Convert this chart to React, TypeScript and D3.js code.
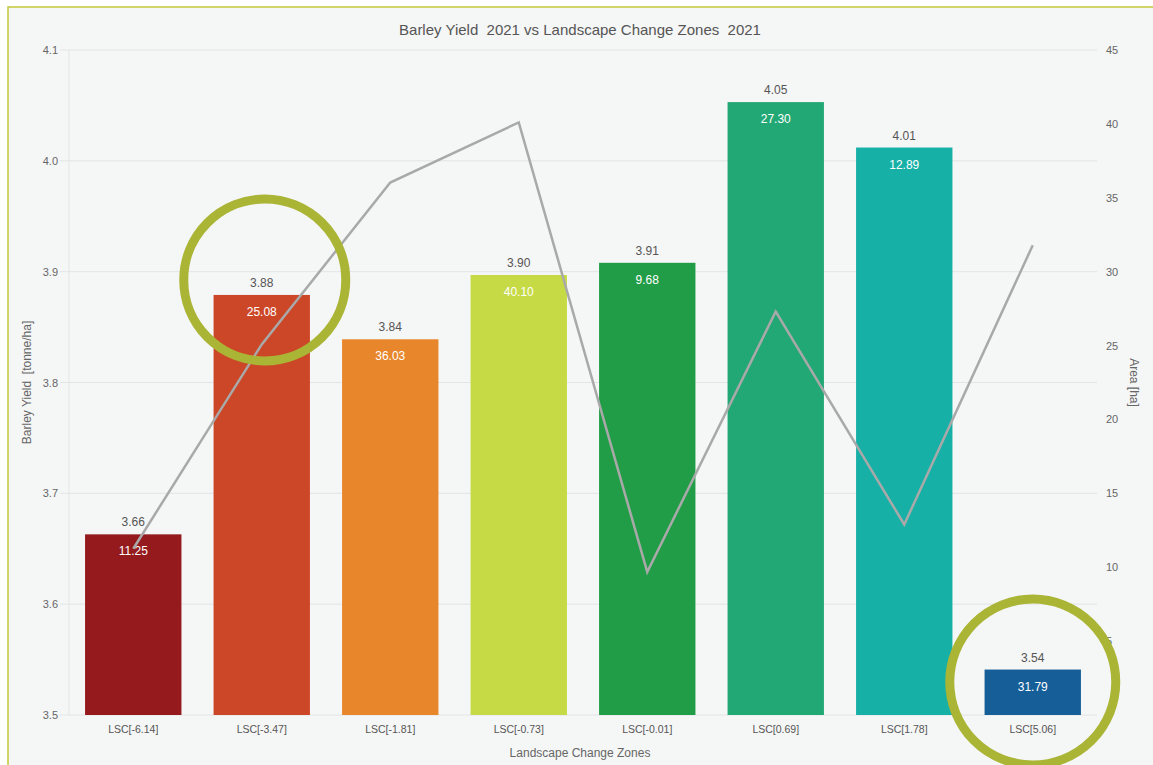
import React from "react";
import * as d3 from "d3";

const categories = ["LSC[-6.14]", "LSC[-3.47]", "LSC[-1.81]", "LSC[-0.73]", "LSC[-0.01]", "LSC[0.69]", "LSC[1.78]", "LSC[5.06]"];
const yieldValues = [3.663, 3.879, 3.839, 3.897, 3.908, 4.053, 4.012, 3.541];
const areaValues = [11.25, 25.08, 36.03, 40.1, 9.68, 27.3, 12.89, 31.79];
const barColors = ["#951a1e", "#cc4727", "#e8862b", "#c6da45", "#229d47", "#22a874", "#17b0a6", "#155e98"];
const leftTicks = [3.5, 3.6, 3.7, 3.8, 3.9, 4.0, 4.1];
const rightTicks = [0, 5, 10, 15, 20, 25, 30, 35, 40, 45];
const highlighted = [1, 7];

const W = 1153;
const H = 765;
const M = { left: 69, right: 1097, top: 50, bottom: 715 };
const FONT = "'Liberation Sans', Arial, sans-serif";

export default function App() {
  const x = d3.scaleBand<string>().domain(categories).range([M.left, M.right]).paddingInner(0.25).paddingOuter(0.125);
  const yL = d3.scaleLinear().domain([3.5, 4.1]).range([M.bottom, M.top]);
  const yR = d3.scaleLinear().domain([0, 45]).range([M.bottom, M.top]);
  const line = d3
    .line<number>()
    .x((_, i) => (x(categories[i]) as number) + x.bandwidth() / 2)
    .y((d) => yR(d));

  return (
    <svg width={W} height={H} style={{ position: "absolute", left: 0, top: 0, fontFamily: FONT }}>
      <rect x={0} y={0} width={W} height={H} fill="#ffffff" />
      <rect x={8} y={7} width={W + 10} height={H + 10} fill="#f5f6f6" stroke="#c3c83a" strokeWidth={1.5} />
      <text x={580} y={35} textAnchor="middle" fontSize={15} fill="#555" style={{ whiteSpace: "pre" }}>
        {"Barley Yield  2021 vs Landscape Change Zones  2021"}
      </text>
      {leftTicks.map((t) => (
        <g key={"l" + t}>
          <line x1={60} x2={M.right} y1={yL(t)} y2={yL(t)} stroke="#e2e4e5" strokeWidth={1} />
          <text x={58} y={yL(t) + 4} textAnchor="end" fontSize={11} fill="#666">
            {d3.format(".1f")(t)}
          </text>
        </g>
      ))}
      <line x1={M.left} x2={M.left} y1={M.top} y2={M.bottom} stroke="#e2e4e5" />
      {rightTicks.map((t) => (
        <text key={"r" + t} x={1106} y={yR(t) + 4} textAnchor="start" fontSize={11} fill="#666">
          {t}
        </text>
      ))}
      <text transform={`translate(31,${(M.top + M.bottom) / 2}) rotate(-90)`} textAnchor="middle" fontSize={12} fill="#666" style={{ whiteSpace: "pre" }}>
        {"Barley Yield  [tonne/ha]"}
      </text>
      <text transform={`translate(1130,${(M.top + M.bottom) / 2}) rotate(90)`} textAnchor="middle" fontSize={12} fill="#666">
        Area [ha]
      </text>
      {categories.map((c, i) => {
        const bx = x(c) as number;
        const top = yL(yieldValues[i]);
        return (
          <g key={c}>
            <rect x={bx} y={top} width={x.bandwidth()} height={M.bottom - top} fill={barColors[i]} />
            <text x={bx + x.bandwidth() / 2} y={top - 8} textAnchor="middle" fontSize={12} fill="#555">
              {d3.format(".2f")(yieldValues[i])}
            </text>
            <text x={bx + x.bandwidth() / 2} y={top + 21} textAnchor="middle" fontSize={12} fill="#ffffff">
              {d3.format(".2f")(areaValues[i])}
            </text>
            <text x={bx + x.bandwidth() / 2} y={733} textAnchor="middle" fontSize={10.5} fill="#555">
              {c}
            </text>
          </g>
        );
      })}
      <path d={line(areaValues) || ""} fill="none" stroke="#a9a9a9" strokeWidth={2.5} />
      <text x={580} y={757} textAnchor="middle" fontSize={12} fill="#666">
        Landscape Change Zones
      </text>
      {highlighted.map((i) => {
        const cx = (x(categories[i]) as number) + x.bandwidth() / 2;
        const cy = i === 1 ? 280 : 682;
        return <circle key={"c" + i} cx={cx + (i === 1 ? 3 : 0)} cy={cy} r={i === 1 ? 81 : 83} fill="none" stroke="#aab435" strokeWidth={9} />;
      })}
    </svg>
  );
}
